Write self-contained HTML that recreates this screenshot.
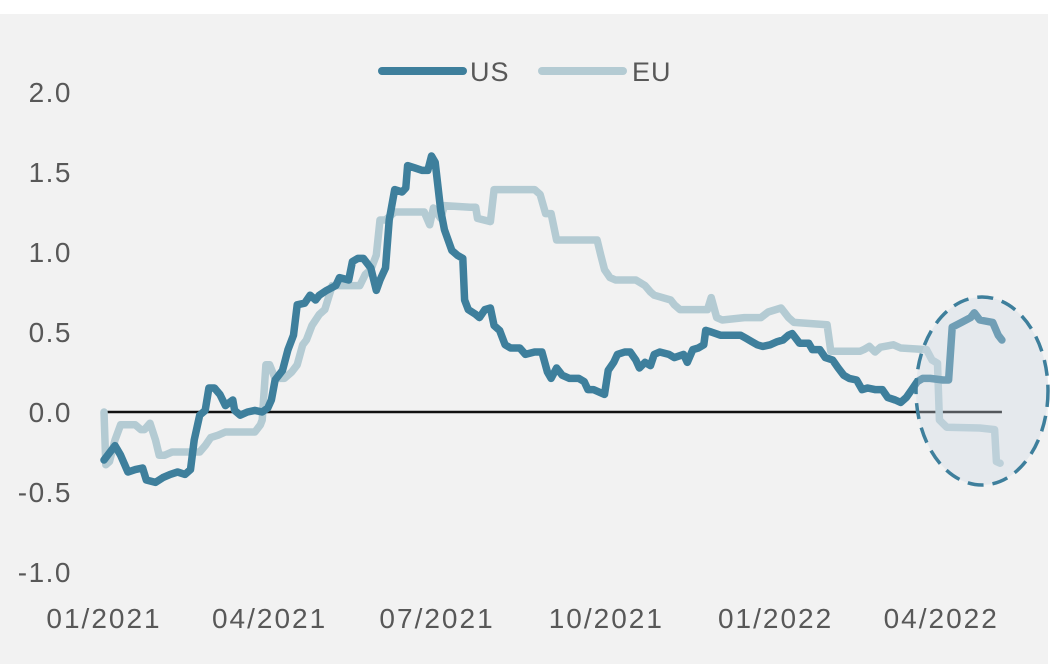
<!DOCTYPE html>
<html><head><meta charset="utf-8"><style>
html,body{margin:0;padding:0;background:#fff;}
svg{display:block;font-family:"Liberation Sans",sans-serif;}
</style></head><body>
<svg width="1050" height="664">
<rect x="0" y="14" width="1048" height="650" fill="#f2f2f2"/>
<g id="ylab"></g><g id="xlab"></g>
<line id="zero" stroke="#111" stroke-width="2.5"/>
<g id="lines"></g>
<ellipse cx="982" cy="391" rx="66" ry="94" fill="rgba(205,218,228,0.35)" stroke="#3e7f9c" stroke-width="3.5" stroke-dasharray="16,9"/>
<g>
<g><line x1="382" y1="71" x2="463" y2="71" stroke="#3e7f9c" stroke-width="8" stroke-linecap="round"/><text x="470" y="81" font-size="27" letter-spacing="1" fill="#585858">US</text></g>
<g><line x1="542" y1="71" x2="623" y2="71" stroke="#b4cbd3" stroke-width="8" stroke-linecap="round"/><text x="632" y="81" font-size="27" letter-spacing="1" fill="#585858">EU</text></g>
</g>
</svg>
<script>
const yTicks=[2.0,1.5,1.0,0.5,0.0,-0.5,-1.0];
const xTickLabels=["01/2021","04/2021","07/2021","10/2021","01/2022","04/2022"];
const xTickDays=[0,90,181,273,365,455];
const usDays=[0,6,9,13,17,21,23,28,32,36,40,44,47,49,52,55,57,60,63,66,70,71,74,78,82,86,89,91,93,97,100,103,105,109,112,115,117,121,126,128,133,135,138,141,145,148,150,153,155,158,162,164,165,169,173,176,178,180,183,185,189,192,195,196,198,202,204,207,210,212,215,218,221,226,229,234,238,241,243,246,249,253,258,261,263,266,270,272,274,277,279,283,286,289,291,294,297,299,302,307,310,315,317,320,323,326,327,330,335,340,346,349,352,355,358,362,366,369,372,374,378,383,385,389,392,396,399,402,405,409,412,415,419,423,426,430,433,436,439,442,445,449,456,459,461,466,471,473,476,483,486,488];
const usValues=[-0.30,-0.21,-0.27,-0.375,-0.36,-0.35,-0.425,-0.44,-0.41,-0.39,-0.375,-0.39,-0.36,-0.175,-0.02,0.01,0.15,0.15,0.11,0.04,0.075,0.01,-0.02,0,0.01,0,0.025,0.075,0.2,0.26,0.39,0.48,0.67,0.68,0.73,0.7,0.73,0.76,0.79,0.84,0.825,0.94,0.96,0.96,0.9,0.76,0.825,0.9,1.2,1.39,1.375,1.4,1.54,1.525,1.51,1.51,1.6,1.56,1.26,1.14,1.01,0.98,0.96,0.7,0.64,0.61,0.59,0.64,0.65,0.54,0.51,0.42,0.4,0.4,0.36,0.375,0.375,0.25,0.21,0.275,0.23,0.21,0.21,0.19,0.14,0.14,0.12,0.11,0.26,0.31,0.36,0.375,0.375,0.325,0.275,0.31,0.29,0.36,0.375,0.36,0.34,0.36,0.31,0.39,0.4,0.42,0.51,0.5,0.48,0.48,0.48,0.46,0.44,0.42,0.41,0.42,0.44,0.45,0.48,0.49,0.43,0.43,0.39,0.39,0.34,0.325,0.275,0.23,0.21,0.2,0.14,0.15,0.14,0.14,0.09,0.075,0.06,0.09,0.14,0.19,0.21,0.21,0.2,0.2,0.53,0.56,0.59,0.62,0.575,0.56,0.48,0.45];
const euDays=[0,1,3,6,9,17,20,22,25,28,30,33,37,52,55,58,62,66,82,85,86,88,90,93,98,102,105,108,110,113,117,120,124,139,142,145,148,150,153,158,174,177,179,183,185,199,202,203,210,212,230,234,237,240,243,246,268,270,272,275,278,289,294,297,299,308,310,313,328,330,333,336,348,357,361,368,372,375,393,395,411,413,416,419,422,429,433,447,450,453,454,458,476,484,485,487];
const euValues=[0.0,-0.33,-0.31,-0.175,-0.08,-0.08,-0.11,-0.11,-0.07,-0.175,-0.27,-0.27,-0.25,-0.25,-0.21,-0.16,-0.145,-0.125,-0.125,-0.08,-0.05,0.295,0.295,0.21,0.21,0.25,0.295,0.42,0.45,0.54,0.61,0.64,0.79,0.79,0.86,0.89,0.98,1.2,1.2,1.25,1.25,1.17,1.275,1.21,1.29,1.28,1.28,1.21,1.19,1.39,1.39,1.39,1.36,1.24,1.24,1.075,1.075,0.98,0.89,0.84,0.825,0.825,0.79,0.75,0.73,0.7,0.67,0.64,0.64,0.715,0.59,0.575,0.59,0.59,0.625,0.65,0.59,0.56,0.545,0.38,0.38,0.39,0.41,0.375,0.405,0.42,0.4,0.39,0.325,0.305,-0.05,-0.095,-0.1,-0.11,-0.31,-0.32];
const NS='http://www.w3.org/2000/svg';
const xS=d=>104+d*1.84;
const yS=v=>412-v*160;
function mk(t,a,p){const e=document.createElementNS(NS,t);for(const k in a)e.setAttribute(k,a[k]);p.appendChild(e);return e;}
const yl=document.getElementById('ylab');
yTicks.forEach(v=>{const t=mk('text',{x:72,y:yS(v)+10,'text-anchor':'end','font-size':28,'letter-spacing':1.5,fill:'#585858'},yl);t.textContent=v.toFixed(1);

});
const xl=document.getElementById('xlab');
xTickLabels.forEach((s,i)=>{const t=mk('text',{x:xS(xTickDays[i]),y:628,'text-anchor':'middle','font-size':28,'letter-spacing':2,fill:'#585858'},xl);t.textContent=s;

});
const z=document.getElementById('zero');
z.setAttribute('x1',xS(0));z.setAttribute('x2',xS(488));z.setAttribute('y1',yS(0));z.setAttribute('y2',yS(0));
const g=document.getElementById('lines');
function line(days,vals,color,name){const d=days.map((x,i)=>(i?'L':'M')+xS(x).toFixed(1)+','+yS(vals[i]).toFixed(1)).join('');
const p=mk('path',{d:d,fill:'none',stroke:color,'stroke-width':7.5,'stroke-linejoin':'round','stroke-linecap':'round'},g);

}
line(euDays,euValues,'#b4cbd3','eu-line');
line(usDays,usValues,'#3e7f9c','us-line');
</script>
</body></html>
